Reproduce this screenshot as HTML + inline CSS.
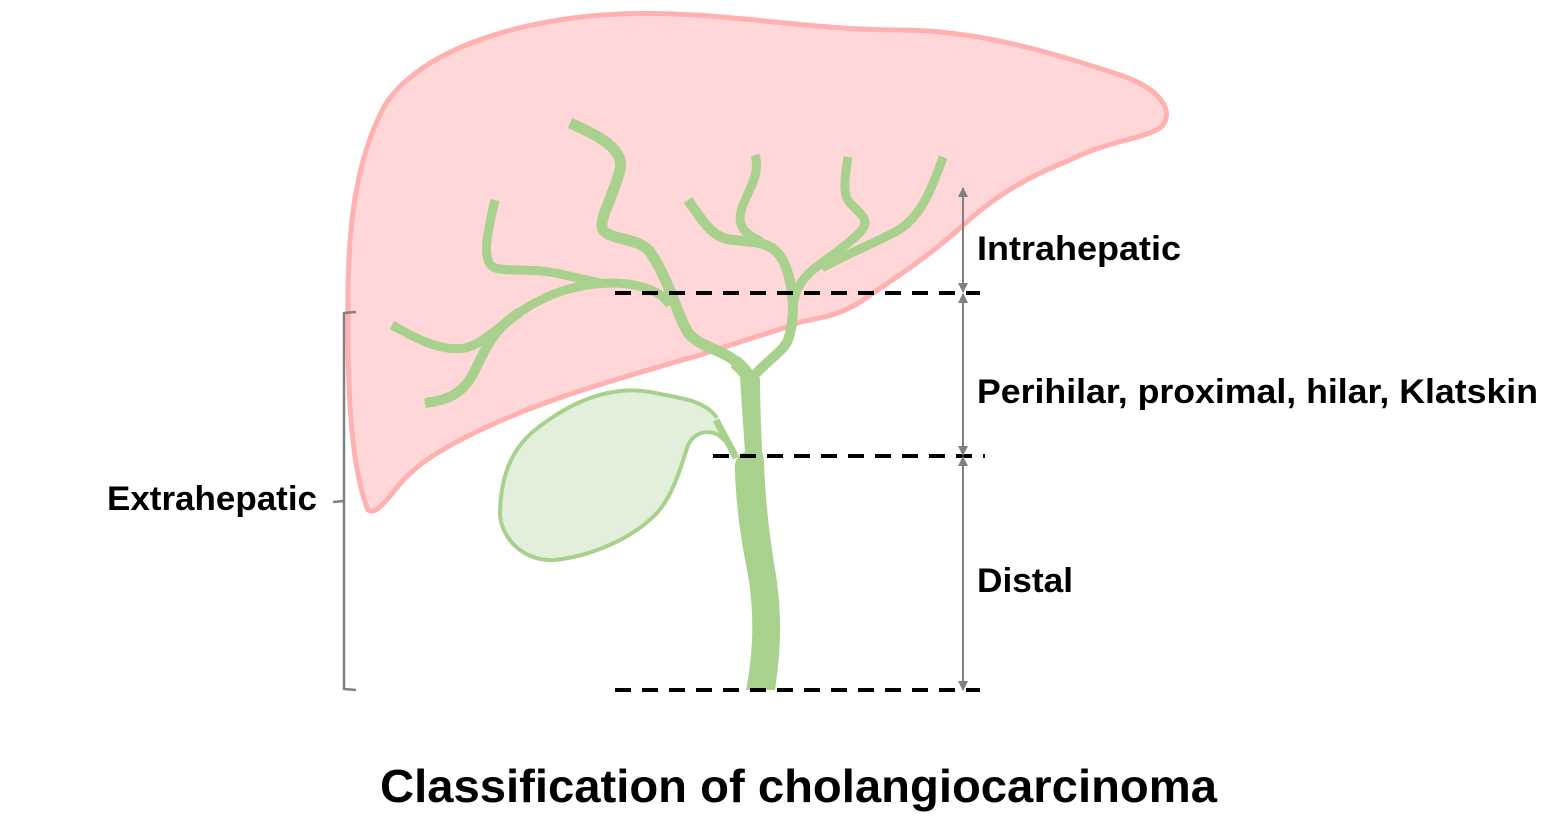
<!DOCTYPE html>
<html><head><meta charset="utf-8"><style>
html,body{margin:0;padding:0;background:#fff;}
svg{display:block;}
text{font-family:"Liberation Sans",sans-serif;font-weight:bold;fill:#000;}
</style></head><body>
<svg width="1541" height="833" viewBox="0 0 1541 833" xmlns="http://www.w3.org/2000/svg">
<defs>
<marker id="ah" viewBox="0 0 10 10" refX="9" refY="5" markerWidth="5" markerHeight="5" orient="auto-start-reverse">
<path d="M0,0 L10,5 L0,10 z" fill="#808080"/></marker>
</defs>
<path d="M368,510 C352,470 347,400 348,300 C348,230 355,160 385,105 C420,50 520,18 620,14 C720,10 800,30 900,30 C980,30 1060,55 1120,75 C1165,90 1175,115 1160,128 C1140,140 1110,140 1070,160 C1020,180 990,200 960,228 C930,255 900,275 870,295 C845,315 820,318 800,322 C780,330 760,335 700,355 C620,378 540,400 470,435 C430,455 410,470 395,490 C385,502 375,515 368,510 Z" fill="#ffd7d8" stroke="#ffb0b0" stroke-width="5"/>
<path d="M717,418 C705,400 680,398 650,392 C610,385 570,402 535,430 C510,450 500,480 500,515 C502,540 525,562 555,560 C590,556 630,540 655,515 C672,498 680,470 688,445 C695,432 706,430 717,434 C725,440 730,445 735,455" fill="#e2efda" stroke="#a9d18e" stroke-width="4"/>
<path d="M716,420 C722,432 730,445 736,458" fill="none" stroke="#a9d18e" stroke-width="7"/>
<g fill="none" stroke="#a9d18e" stroke-width="9" stroke-linecap="butt" stroke-linejoin="round">
<path d="M392,325 C415,338 440,352 465,348 C480,345 495,330 520,312 C550,292 580,283 615,283 C640,284 660,290 670,305"/>
<path d="M425,403 C450,400 465,392 475,370 C485,350 492,330 520,312" stroke-width="10"/>
<path d="M495,200 C488,230 480,262 495,268 C510,272 535,268 560,274 L605,284"/>
<path d="M570,123 C600,136 625,150 620,170 C612,200 598,220 603,230 C610,240 640,238 650,252 C670,280 678,320 690,335 C705,350 728,350 742,368" stroke-width="11"/>
<path d="M688,200 C705,225 715,240 735,240 C755,243 775,240 785,265 C795,290 795,320 788,340 C783,352 765,362 752,378" stroke-width="10"/>
<path d="M755,155 C760,170 752,185 745,200 C735,222 740,232 762,242"/>
<path d="M848,157 C845,175 842,195 850,203 C860,213 870,220 862,230 C848,245 828,258 815,268 C800,280 795,292 793,305"/>
<path d="M943,157 C930,195 918,220 895,232 C870,245 845,255 822,268"/>
</g>
<path d="M740,378 C742,410 744,435 745,452 C738,455 734,460 735,470 C736,510 742,545 748,575 C754,610 754,650 746,690 L775,690 C781,650 782,615 776,575 C770,540 765,500 764,460 C763,455 762,452 762,450 C761,425 760,400 760,378 Z" fill="#a9d18e"/>
<path d="M735,362 C745,370 750,378 752,385" stroke="#a9d18e" stroke-width="14" fill="none"/>
<g stroke="#000" stroke-width="4" stroke-dasharray="16 11">
<line x1="615" y1="293" x2="980" y2="293"/>
<line x1="713" y1="456" x2="985" y2="456"/>
<line x1="615" y1="690" x2="980" y2="690"/>
</g>
<g stroke="#808080" stroke-width="2" fill="none">
<line x1="963" y1="188" x2="963" y2="292" marker-start="url(#ah)" marker-end="url(#ah)"/>
<line x1="963" y1="294" x2="963" y2="455" marker-start="url(#ah)" marker-end="url(#ah)"/>
<line x1="963" y1="457" x2="963" y2="690" marker-start="url(#ah)" marker-end="url(#ah)"/>
<path d="M356,312 L344,313 L344,689 L356,690 M344,501 L333,502" stroke-width="2.5"/>
</g>
<text x="977" y="260" font-size="34" textLength="204" lengthAdjust="spacingAndGlyphs">Intrahepatic</text>
<text x="977" y="403" font-size="34" textLength="561" lengthAdjust="spacingAndGlyphs">Perihilar, proximal, hilar, Klatskin</text>
<text x="977" y="592" font-size="34" textLength="96" lengthAdjust="spacingAndGlyphs">Distal</text>
<text x="107" y="510" font-size="34" textLength="210" lengthAdjust="spacingAndGlyphs">Extrahepatic</text>
<text x="380" y="802" font-size="46" textLength="837" lengthAdjust="spacingAndGlyphs">Classification of cholangiocarcinoma</text>
</svg>
</body></html>
